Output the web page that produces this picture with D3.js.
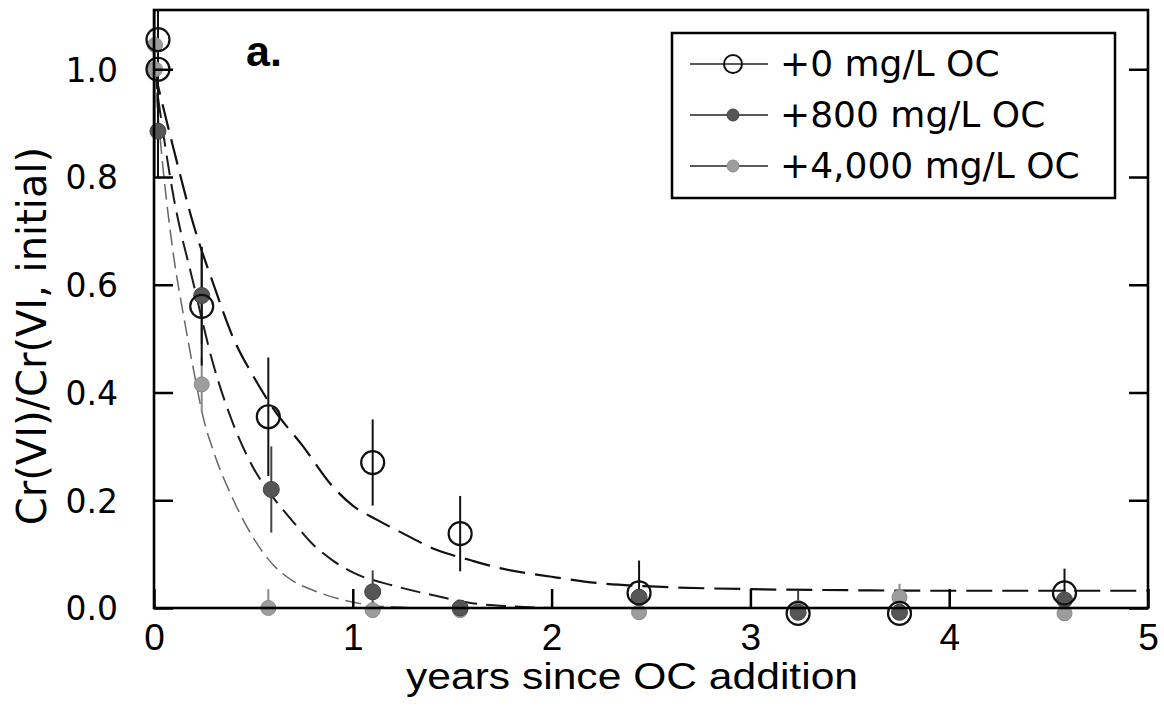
<!DOCTYPE html>
<html>
<head>
<meta charset="utf-8">
<script src="https://cdn.jsdelivr.net/npm/d3@7"></script>
<style>
  html, body { margin: 0; padding: 0; background: #ffffff; }
  svg { display: block; }
  .y-axis text, .legend-text, .y-title { font-family: "DejaVu Sans", Verdana, sans-serif; }
  .x-axis text, .x-title, .panel-label { font-family: "Liberation Sans", Arial, sans-serif; }
</style>
</head>
<body>
<div id="chart"></div>
<script>
const years0 = [0.02, 0.02, 0.24, 0.575, 1.10, 1.54, 2.44, 3.24, 3.75, 4.58];
const ratio0 = [1.055, 1.00, 0.56, 0.355, 0.27, 0.138, 0.028, -0.01, -0.01, 0.028];
const err0 = [0, 0.2, 0.11, 0.11, 0.08, 0.07, 0.06, 0, 0, 0.045];

const years800 = [0.02, 0.24, 0.59, 1.10, 1.54, 2.44, 3.24, 3.75, 4.58];
const ratio800 = [0.885, 0.58, 0.22, 0.03, 0.0, 0.02, -0.008, -0.008, 0.015];
const err800 = [0.08, 0.09, 0.08, 0.04, 0, 0, 0.04, 0, 0.02];

const years4000 = [0.005, 0.005, 0.24, 0.575, 1.10, 1.54, 2.44, 3.24, 3.75, 4.58];
const ratio4000 = [1.045, 1.00, 0.415, 0.0, -0.004, -0.004, -0.008, 0.0, 0.02, -0.01];
const err4000 = [0, 0.2, 0.05, 0.035, 0, 0, 0, 0, 0.025, 0];

// dashed fit curves
const fitYears0 = [0, 0.1, 0.2, 0.3, 0.4, 0.5, 0.6, 0.75, 0.9, 1.0, 1.12, 1.25, 1.42, 1.59, 1.74, 2.0, 2.24, 2.5, 3.0, 3.5, 4.0, 5.0];
const fitRatio0 = [1.0, 0.85, 0.71, 0.60, 0.50, 0.43, 0.37, 0.30, 0.225, 0.19, 0.164, 0.139, 0.108, 0.089, 0.074, 0.058, 0.046, 0.04, 0.035, 0.033, 0.032, 0.032];

const fitYears800 = [0, 0.1, 0.2, 0.3, 0.4, 0.5, 0.6, 0.7, 0.8, 0.9, 1.0, 1.2, 1.4, 1.6, 1.8, 2.0];
const fitRatio800 = [1.0, 0.76, 0.60, 0.45, 0.34, 0.26, 0.205, 0.16, 0.118, 0.088, 0.066, 0.042, 0.024, 0.009, 0.003, 0.0];

const fitYears4000 = [0, 0.05, 0.1, 0.15, 0.2, 0.25, 0.3, 0.4, 0.5, 0.6, 0.7, 0.8, 0.95, 1.15, 1.4];
const fitRatio4000 = [1.0, 0.80, 0.65, 0.54, 0.44, 0.35, 0.29, 0.20, 0.13, 0.08, 0.05, 0.033, 0.015, 0.003, 0.0];

const legendLabels = ["+0 mg/L OC", "+800 mg/L OC", "+4,000 mg/L OC"];
const yTicks = [0, 0.2, 0.4, 0.6, 0.8, 1.0];
const xTicks = [0, 1, 2, 3, 4, 5];

const d3 = window.d3;
const WIDTH = 1164;
const HEIGHT = 711;
const MARGIN = { top: 10, right: 16, bottom: 103, left: 154 };

const STYLE = {
  oc0: { fill: "none", stroke: "#111", r: 11.5, bar: "#111", fit: "#111", dash: "26,10", fitWidth: 2.2 },
  oc800: { fill: "#565656", stroke: "#444", r: 8, bar: "#444", fit: "#1a1a1a", dash: "20,9", fitWidth: 2 },
  oc4000: { fill: "#9d9d9d", stroke: "#8a8a8a", r: 7.5, bar: "#8a8a8a", fit: "#666", dash: "16,7", fitWidth: 1.5 },
};

const series = [
  { key: "oc4000", years: years4000, ratio: ratio4000, err: err4000, fitX: fitYears4000, fitY: fitRatio4000 },
  { key: "oc800", years: years800, ratio: ratio800, err: err800, fitX: fitYears800, fitY: fitRatio800 },
  { key: "oc0", years: years0, ratio: ratio0, err: err0, fitX: fitYears0, fitY: fitRatio0 },
];

const svg = d3
  .select("#chart")
  .append("svg")
  .attr("width", WIDTH)
  .attr("height", HEIGHT)
  .attr("viewBox", `0 0 ${WIDTH} ${HEIGHT}`);

const x = d3.scaleLinear().domain([0, 5]).range([MARGIN.left, WIDTH - MARGIN.right]);
const y = d3.scaleLinear().domain([0, 1.11]).range([HEIGHT - MARGIN.bottom, MARGIN.top]);

svg
  .append("clipPath")
  .attr("id", "plot-clip")
  .append("rect")
  .attr("x", MARGIN.left)
  .attr("y", MARGIN.top)
  .attr("width", x.range()[1] - MARGIN.left)
  .attr("height", y.range()[0] - MARGIN.top + 20);

// fits
const line = d3
  .line()
  .x((d) => x(d[0]))
  .y((d) => y(d[1]))
  .curve(d3.curveMonotoneX);

const plot = svg.append("g").attr("clip-path", "url(#plot-clip)");

series.forEach((s) => {
  const st = STYLE[s.key];
  plot
    .append("path")
    .attr("class", "fit")
    .attr("d", line(s.fitX.map((t, i) => [t, s.fitY[i]])))
    .attr("fill", "none")
    .attr("stroke", st.fit)
    .attr("stroke-width", st.fitWidth)
    .attr("stroke-dasharray", st.dash);
});

// error bars
series.forEach((s) => {
  const st = STYLE[s.key];
  const rows = s.years.map((t, i) => ({ t, v: s.ratio[i], e: s.err[i] })).filter((d) => d.e > 0);
  plot
    .append("g")
    .selectAll("line")
    .data(rows)
    .join("line")
    .attr("x1", (d) => x(d.t))
    .attr("x2", (d) => x(d.t))
    .attr("y1", (d) => y(d.v + d.e))
    .attr("y2", (d) => y(Math.max(d.v - d.e, 0)))
    .attr("stroke", st.bar)
    .attr("stroke-width", 2);
});

// markers (grey dots first, open circles on top)
series.forEach((s) => {
  const st = STYLE[s.key];
  svg
    .append("g")
    .selectAll("circle")
    .data(s.years.map((t, i) => ({ t, v: s.ratio[i] })))
    .join("circle")
    .attr("cx", (d) => x(d.t))
    .attr("cy", (d) => y(d.v))
    .attr("r", st.r)
    .attr("fill", st.fill)
    .attr("stroke", st.stroke)
    .attr("stroke-width", s.key === "oc0" ? 2.2 : 1);
});

// axes
const xAxis = svg
  .append("g")
  .attr("class", "x-axis")
  .attr("transform", `translate(0,${y(0)})`)
  .call(d3.axisBottom(x).tickValues(xTicks).tickFormat(d3.format("d")).tickSizeInner(-19).tickSizeOuter(0).tickPadding(16));

const yAxis = svg
  .append("g")
  .attr("class", "y-axis")
  .attr("transform", `translate(${MARGIN.left},0)`)
  .call(d3.axisLeft(y).tickValues(yTicks).tickFormat(d3.format(".1f")).tickSizeInner(-19).tickSizeOuter(0).tickPadding(36));

const yAxisRight = svg
  .append("g")
  .attr("class", "y-axis-right")
  .attr("transform", `translate(${x.range()[1]},0)`)
  .call(d3.axisRight(y).tickValues(yTicks).tickFormat("").tickSizeInner(-19).tickSizeOuter(0));

[xAxis, yAxis, yAxisRight].forEach((g) => {
  g.select(".domain").remove();
  g.selectAll(".tick line").attr("stroke", "#000").attr("stroke-width", 2.5);
});

xAxis.selectAll(".tick text").attr("fill", "#000").style("font-size", "37px");
yAxis.selectAll(".tick text").attr("fill", "#000").style("font-size", "33px").attr("dy", "0.36em");

svg
  .append("rect")
  .attr("x", MARGIN.left)
  .attr("y", MARGIN.top)
  .attr("width", x.range()[1] - MARGIN.left)
  .attr("height", y(0) - MARGIN.top)
  .attr("fill", "none")
  .attr("stroke", "#000")
  .attr("stroke-width", 2.6);

// titles
svg
  .append("text")
  .attr("class", "x-title")
  .attr("x", 632)
  .attr("y", 689)
  .attr("text-anchor", "middle")
  .attr("textLength", 452)
  .attr("lengthAdjust", "spacingAndGlyphs")
  .style("font-size", "36px")
  .text("years since OC addition");

svg
  .append("text")
  .attr("class", "y-title")
  .attr("transform", `translate(46,${336}) rotate(-90)`)
  .attr("text-anchor", "middle")
  .style("font-size", "40px")
  .text("Cr(VI)/Cr(VI, initial)");

svg
  .append("text")
  .attr("class", "panel-label")
  .attr("x", 246)
  .attr("y", 66)
  .style("font-size", "43px")
  .style("font-weight", 700)
  .text("a.");

// legend
const legend = svg.append("g").attr("class", "legend").attr("transform", "translate(672,33)");

legend
  .append("rect")
  .attr("width", 443)
  .attr("height", 165)
  .attr("fill", "#fff")
  .attr("stroke", "#000")
  .attr("stroke-width", 2.5);

const legendKeys = ["oc0", "oc800", "oc4000"];
legendLabels.forEach((label, i) => {
  const st = STYLE[legendKeys[i]];
  const item = legend.append("g").attr("transform", `translate(0,${31 + i * 51})`);
  item.append("line").attr("x1", 18).attr("x2", 96).attr("stroke", "#222").attr("stroke-width", 1.6);
  item
    .append("circle")
    .attr("cx", 61)
    .attr("r", legendKeys[i] === "oc0" ? 9 : 6)
    .attr("fill", st.fill)
    .attr("stroke", st.stroke)
    .attr("stroke-width", legendKeys[i] === "oc0" ? 2 : 1);
  item
    .append("text")
    .attr("class", "legend-text")
    .attr("x", 108)
    .attr("y", 12)
    .style("font-size", "36px")
    .text(label);
});
</script>
</body>
</html>
